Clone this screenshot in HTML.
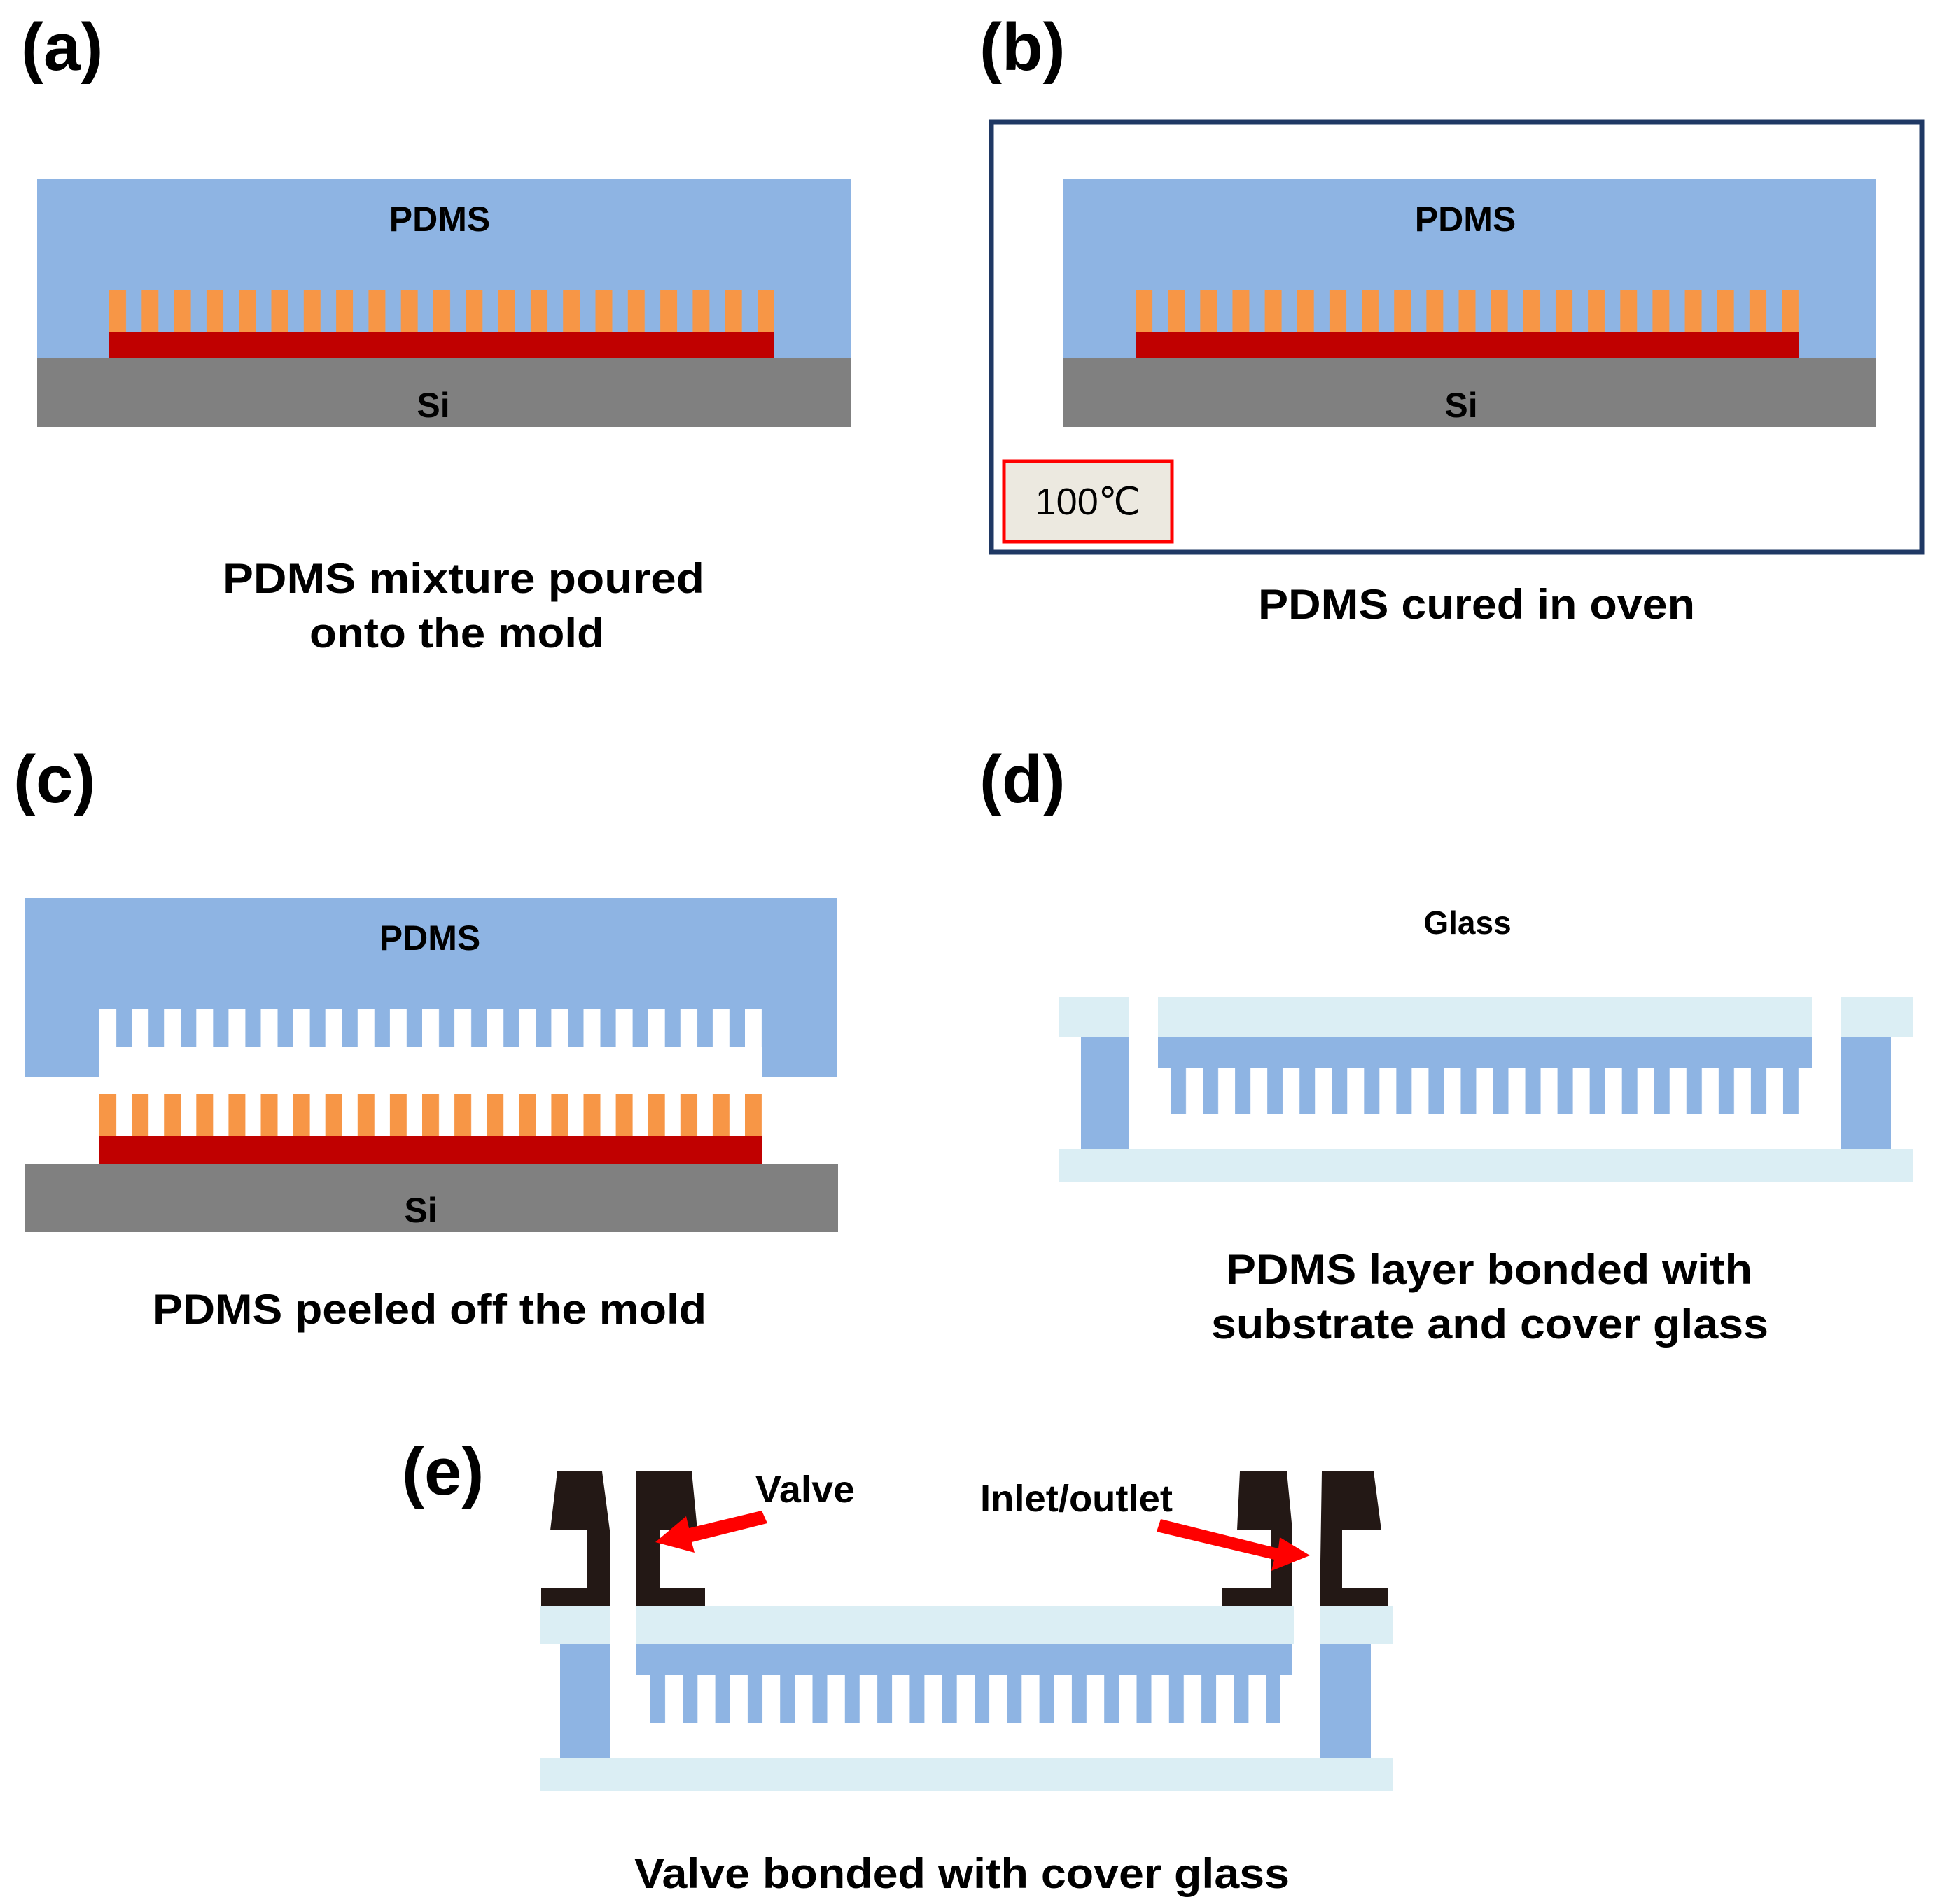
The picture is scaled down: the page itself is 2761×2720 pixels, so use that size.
<!DOCTYPE html>
<html><head><meta charset="utf-8"><style>
html,body{margin:0;padding:0;background:#fff;}
svg{display:block;}
text{font-family:"Liberation Sans",Arial,sans-serif;font-weight:bold;fill:#000;}
</style></head><body>
<svg width="2761" height="2720" viewBox="0 0 2761 2720" xmlns="http://www.w3.org/2000/svg">
<defs>
<pattern id="pa" patternUnits="userSpaceOnUse" x="156" y="0" width="46.3" height="10"><rect x="0" y="0" width="24" height="10" fill="#f79646"/></pattern>
<pattern id="pb" patternUnits="userSpaceOnUse" x="1622" y="0" width="46.15" height="10"><rect x="0" y="0" width="24" height="10" fill="#f79646"/></pattern>
<pattern id="pc" patternUnits="userSpaceOnUse" x="142" y="0" width="46.1" height="10"><rect x="0" y="0" width="24" height="10" fill="#f79646"/></pattern>
<pattern id="pcw" patternUnits="userSpaceOnUse" x="142" y="0" width="46.1" height="10"><rect x="0" y="0" width="24" height="10" fill="#fff"/></pattern>
<pattern id="pd" patternUnits="userSpaceOnUse" x="1672" y="0" width="46.05" height="10"><rect x="0" y="0" width="22" height="10" fill="#8eb4e3"/></pattern>
<pattern id="pe" patternUnits="userSpaceOnUse" x="929" y="0" width="46.3" height="10"><rect x="0" y="0" width="21" height="10" fill="#8eb4e3"/></pattern>
</defs>

<text x="30" y="100" font-size="96">(a)</text>
<text x="1399" y="100" font-size="96">(b)</text>
<text x="19" y="1146" font-size="96">(c)</text>
<text x="1399" y="1146" font-size="96">(d)</text>
<text x="574" y="2135" font-size="96">(e)</text>

<!-- Panel a -->
<rect x="53" y="256" width="1162" height="257" fill="#8eb4e3"/>
<rect x="156" y="414" width="950" height="62" fill="url(#pa)"/>
<rect x="156" y="474" width="950" height="39" fill="#c00000"/>
<rect x="53" y="511" width="1162" height="99" fill="#808080"/>
<text x="628" y="330" font-size="50" text-anchor="middle">PDMS</text>
<text x="619" y="596" font-size="50" text-anchor="middle">Si</text>
<text x="318" y="847" font-size="60" textLength="688" lengthAdjust="spacingAndGlyphs">PDMS mixture  poured</text>
<text x="442" y="925" font-size="60" textLength="421" lengthAdjust="spacingAndGlyphs">onto the mold</text>

<!-- Panel b -->
<rect x="1416" y="174" width="1329" height="615" fill="none" stroke="#1f3864" stroke-width="7"/>
<rect x="1518" y="256" width="1162" height="257" fill="#8eb4e3"/>
<rect x="1622" y="414" width="947" height="62" fill="url(#pb)"/>
<rect x="1622" y="474" width="947" height="39" fill="#c00000"/>
<rect x="1518" y="511" width="1162" height="99" fill="#808080"/>
<text x="2093" y="330" font-size="50" text-anchor="middle">PDMS</text>
<text x="2087" y="596" font-size="50" text-anchor="middle">Si</text>
<rect x="1434" y="659" width="240" height="115" fill="#ece9e0" stroke="#ff0000" stroke-width="5"/>
<text x="1554" y="735" font-size="54" text-anchor="middle" style="font-weight:normal">100℃</text>
<text x="1797" y="884" font-size="60" textLength="624" lengthAdjust="spacingAndGlyphs">PDMS cured in oven</text>

<!-- Panel c -->
<rect x="35" y="1283" width="1160" height="256" fill="#8eb4e3"/>
<rect x="142" y="1495" width="946" height="44" fill="#fff"/>
<rect x="142" y="1442" width="946" height="54" fill="url(#pcw)"/>
<rect x="142" y="1563" width="946" height="62" fill="url(#pc)"/>
<rect x="142" y="1623" width="946" height="40" fill="#c00000"/>
<rect x="35" y="1663" width="1162" height="97" fill="#808080"/>
<text x="614" y="1357" font-size="50" text-anchor="middle">PDMS</text>
<text x="601" y="1746" font-size="50" text-anchor="middle">Si</text>
<text x="218" y="1891" font-size="60" textLength="791" lengthAdjust="spacingAndGlyphs">PDMS peeled off the mold</text>

<!-- Panel d -->
<text x="2096" y="1334" font-size="46" text-anchor="middle">Glass</text>
<rect x="1512" y="1424" width="101" height="57" fill="#dbeef4"/>
<rect x="1654" y="1424" width="934" height="57" fill="#dbeef4"/>
<rect x="2630" y="1424" width="103" height="57" fill="#dbeef4"/>
<rect x="1544" y="1481" width="69" height="161" fill="#8eb4e3"/>
<rect x="2630" y="1481" width="71" height="161" fill="#8eb4e3"/>
<rect x="1654" y="1481" width="934" height="44" fill="#8eb4e3"/>
<rect x="1672" y="1525" width="897" height="67" fill="url(#pd)"/>
<rect x="1512" y="1642" width="1221" height="47" fill="#dbeef4"/>
<text x="1751" y="1834" font-size="60" textLength="752" lengthAdjust="spacingAndGlyphs">PDMS layer bonded with</text>
<text x="1730" y="1912" font-size="60" textLength="796" lengthAdjust="spacingAndGlyphs">substrate and cover glass</text>

<!-- Panel e -->
<rect x="771" y="2294" width="100" height="54" fill="#dbeef4"/>
<rect x="908" y="2294" width="940" height="54" fill="#dbeef4"/>
<rect x="1885" y="2294" width="105" height="54" fill="#dbeef4"/>
<rect x="800" y="2348" width="71" height="163" fill="#8eb4e3"/>
<rect x="1885" y="2348" width="73" height="163" fill="#8eb4e3"/>
<rect x="908" y="2348" width="938" height="45" fill="#8eb4e3"/>
<rect x="929" y="2393" width="900" height="68" fill="url(#pe)"/>
<rect x="771" y="2511" width="1219" height="47" fill="#dbeef4"/>

<g fill="#231815">
<polygon points="796,2102 860,2102 871,2186 871,2294 773,2294 773,2269 838,2269 838,2186 786,2186"/>
<polygon points="908,2102 988,2102 996,2186 942,2186 942,2269 1007,2269 1007,2294 908,2294"/>
<polygon points="1771,2102 1838,2102 1846,2186 1846,2294 1746,2294 1746,2269 1815,2269 1815,2186 1767,2186"/>
<polygon points="1888,2102 1962,2102 1973,2186 1917,2186 1917,2269 1983,2269 1983,2294 1885,2294"/>
</g>

<g fill="#ff0000">
<polygon points="1088,2158 1096,2176 988,2203 992,2218 936,2203 980,2166 984,2183"/>
<polygon points="1658,2170 1652,2188 1820,2228 1816,2244 1871,2222 1828,2196 1826,2212"/>
</g>

<text x="1079" y="2146" font-size="54" textLength="142" lengthAdjust="spacingAndGlyphs">Valve</text>
<text x="1400" y="2159" font-size="54" textLength="275" lengthAdjust="spacingAndGlyphs">Inlet/outlet</text>
<text x="906" y="2697" font-size="60" textLength="936" lengthAdjust="spacingAndGlyphs">Valve bonded with  cover glass</text>
</svg>
</body></html>
